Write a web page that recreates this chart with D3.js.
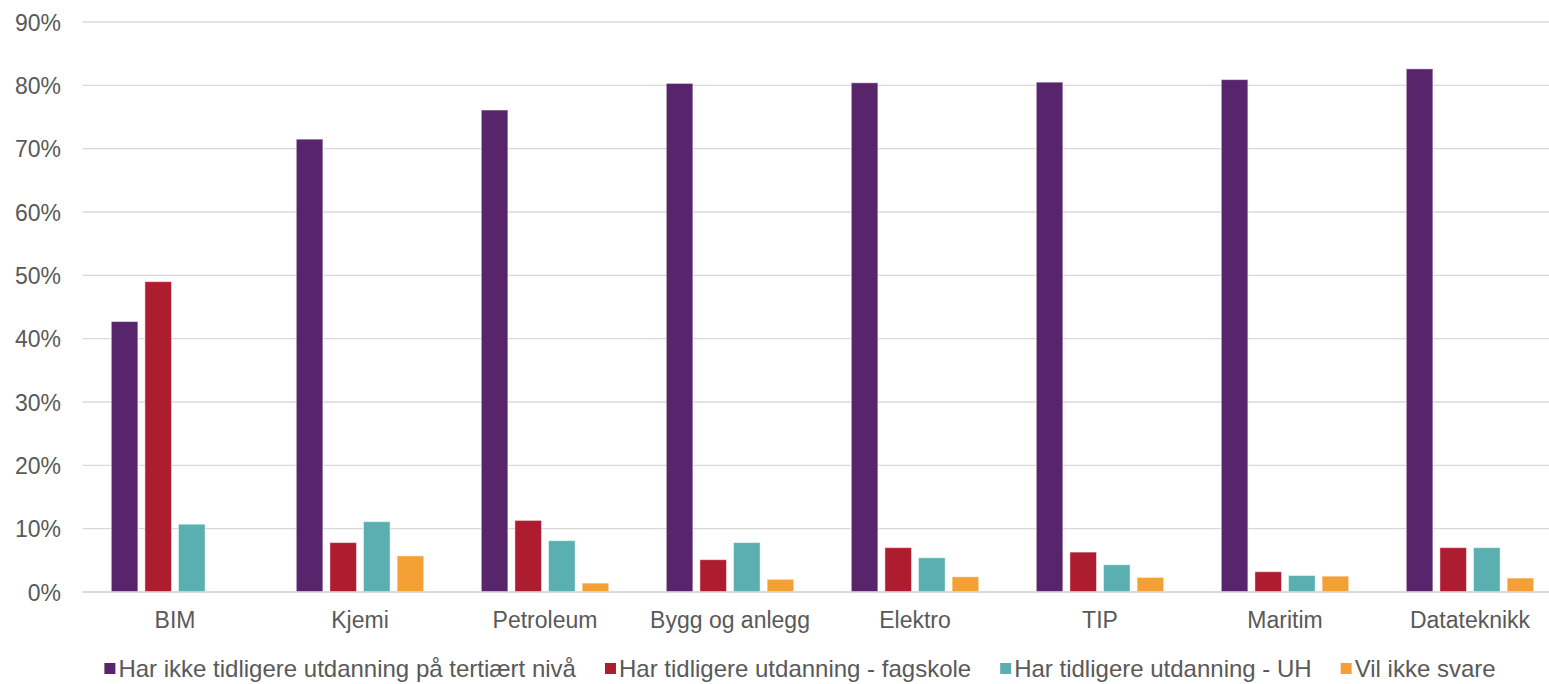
<!DOCTYPE html>
<html>
<head>
<meta charset="utf-8">
<script src="https://cdn.jsdelivr.net/npm/d3@7"></script>
<style>
  html, body { margin: 0; padding: 0; background: #fff; }
  svg { display: block; font-family: "Liberation Sans", Arial, sans-serif; }
</style>
</head>
<body>
<svg id="chart" width="1549" height="684"></svg>
<script>
const categories = ["BIM", "Kjemi", "Petroleum", "Bygg og anlegg", "Elektro", "TIP", "Maritim", "Datateknikk"];
const seriesNames = [
  "Har ikke tidligere utdanning på tertiært nivå",
  "Har tidligere utdanning - fagskole",
  "Har tidligere utdanning - UH",
  "Vil ikke svare"
];
const ingenTertiaer = [42.7, 71.5, 76.1, 80.3, 80.4, 80.5, 80.9, 82.6];
const fagskole      = [49.0,  7.8, 11.3,  5.1,  7.0,  6.3,  3.2,  7.0];
const uh            = [10.7, 11.1,  8.1,  7.8,  5.4,  4.3,  2.6,  7.0];
const vilIkkeSvare  = [null,  5.7,  1.4,  2.0,  2.4,  2.3,  2.5,  2.2];
const yTicks = [0, 10, 20, 30, 40, 50, 60, 70, 80, 90];
const colors = ["#58246B", "#AE1C30", "#5AAFB0", "#F4A034"];

const seriesValues = [ingenTertiaer, fagskole, uh, vilIkkeSvare];

(function () {
const svg = d3.select("#chart");
const W = 1549;
const plotLeft = 82.5, bandStep = 185;
const plotTop = 22, plotBottom = 592;

const x0 = d3.scaleBand().domain(categories).range([plotLeft, plotLeft + bandStep * categories.length]).paddingInner(0).paddingOuter(0);
const x1 = d3.scaleBand().domain(d3.range(seriesNames.length)).range([28.8, bandStep - 28.8]).paddingInner(0.21).paddingOuter(0);
const y = d3.scaleLinear().domain([0, 90]).range([plotBottom, plotTop]);

// gridlines
svg.append("g").selectAll("line").data(yTicks).join("line")
  .attr("x1", plotLeft).attr("x2", W)
  .attr("y1", d => y(d)).attr("y2", d => y(d))
  .attr("stroke", "#D9D9D9").attr("stroke-width", 1.4);

// y axis labels
const yAxis = d3.axisLeft(y).tickValues(yTicks).tickFormat(d => d + "%").tickSize(0).tickPadding(0);
const yg = svg.append("g").attr("transform", "translate(61,0)").call(yAxis);
yg.select(".domain").remove();
yg.selectAll("text").attr("font-size", 23).attr("fill", "#595959")
  .attr("font-family", '"Liberation Sans", Arial, sans-serif').attr("dy", "0.35em");

// bars
const groups = svg.append("g").selectAll("g").data(categories).join("g")
  .attr("transform", d => `translate(${x0(d)},0)`);
groups.selectAll("rect")
  .data((c, i) => seriesValues.map((s, k) => ({ k, v: s[i] })).filter(d => d.v != null))
  .join("rect")
  .attr("x", d => x1(d.k))
  .attr("width", x1.bandwidth())
  .attr("y", d => y(d.v))
  .attr("height", d => y(0) - y(d.v))
  .attr("fill", d => colors[d.k])
  .attr("stroke", "#ffffff").attr("stroke-opacity", 0.45).attr("stroke-width", 1);

// baseline
svg.append("line").attr("x1", plotLeft).attr("x2", W).attr("y1", y(0)).attr("y2", y(0))
  .attr("stroke", "#D9D9D9").attr("stroke-width", 1.6);

// x axis labels
const xAxis = d3.axisBottom(x0).tickSize(0).tickPadding(0);
const xg = svg.append("g").attr("transform", `translate(0,${plotBottom})`).call(xAxis);
xg.select(".domain").remove();
xg.selectAll("text").attr("font-size", 23).attr("fill", "#595959")
  .attr("font-family", '"Liberation Sans", Arial, sans-serif').attr("y", 36).attr("dy", 0);

// legend
const legend = svg.append("g");
const items = legend.selectAll("g").data(seriesNames).join("g");
items.append("rect").attr("width", 11).attr("height", 11).attr("y", -14)
  .attr("fill", (d, i) => colors[i]);
items.append("text").attr("x", 14).attr("y", 0).text(d => d)
  .attr("font-size", 24).attr("fill", "#595959");
const gap = 29;
const widths = [];
items.each(function () { widths.push(14 + this.querySelector("text").getComputedTextLength()); });
const total = d3.sum(widths) + gap * (widths.length - 1);
let cx = 800 - total / 2;
items.each(function (d, i) {
  d3.select(this).attr("transform", `translate(${cx},677)`);
  cx += widths[i] + gap;
});
})();
</script>
</body>
</html>
